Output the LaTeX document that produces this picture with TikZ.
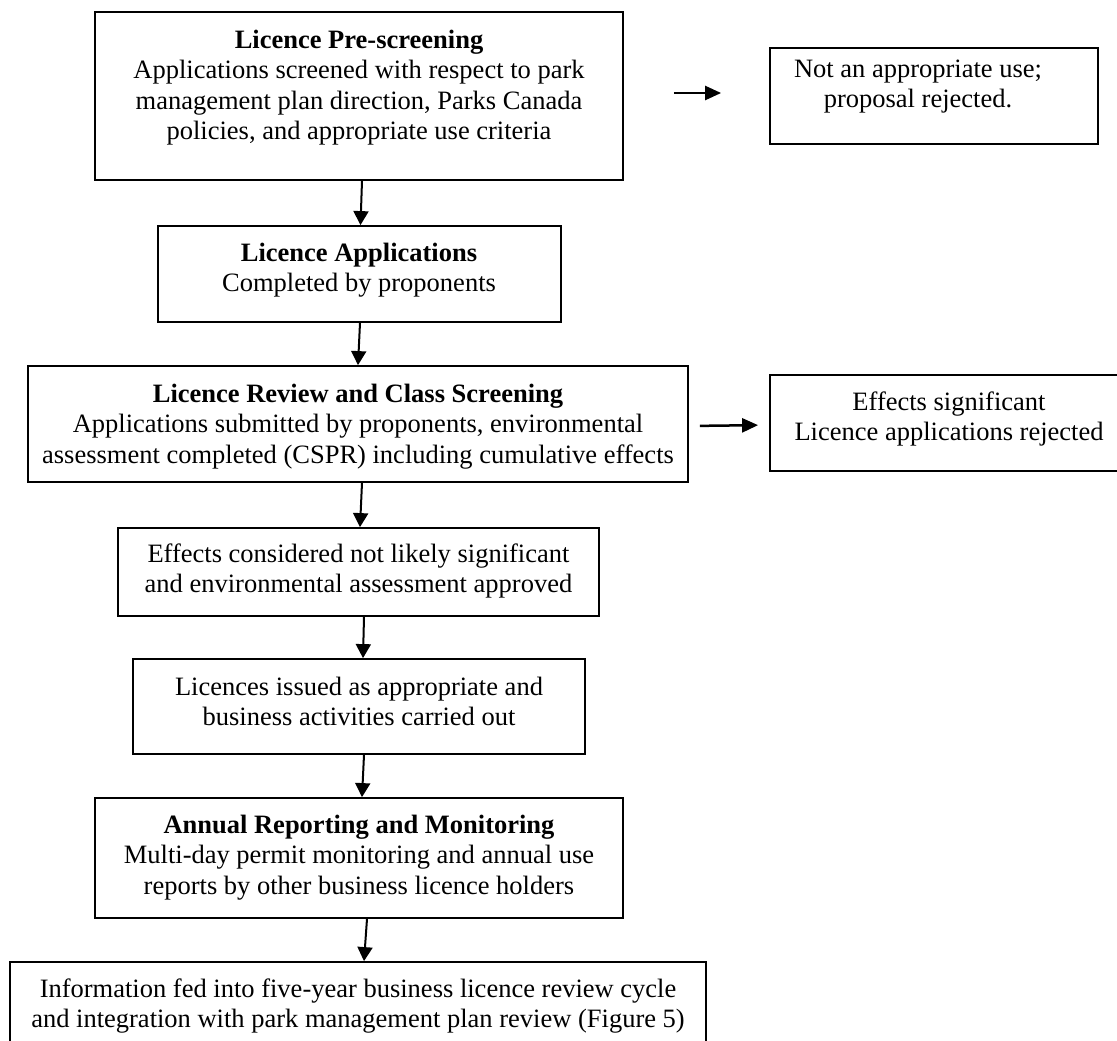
\documentclass[tikz,border=0pt]{standalone}
\usepackage{fontspec}
\setmainfont{Liberation Serif}
\usetikzlibrary{arrows.meta}
\begin{document}
\begin{tikzpicture}[x=1pt,y=-1pt,
  box/.style={draw, line width=1.8pt, rectangle, inner sep=0pt},
  txt/.style={align=center, inner sep=0pt, anchor=north, font=\fontsize{26.5}{30.5}\selectfont},
  arr/.style={line width=2pt, -{Triangle[width=15pt,length=14pt]}},
  harr/.style={line width=2.5pt, -{Triangle[width=14pt,length=16pt]}},
]
\useasboundingbox (0,0) rectangle (1117,1041);
\fill[white] (0,0) rectangle (1117,1041);
\clip (0,0) rectangle (1117,1041);

% boxes
\node[box, minimum width=528pt, minimum height=168pt] (b1) at (359,96) {};
\node[box, minimum width=328pt, minimum height=96pt] (n1) at (934,96) {};
\node[box, minimum width=403pt, minimum height=96pt] (b2) at (359.5,274) {};
\node[box, minimum width=660pt, minimum height=116pt] (b3) at (358,424) {};
\node[box, minimum width=358pt, minimum height=96pt] (n2) at (949,423) {};
\node[box, minimum width=481pt, minimum height=88pt] (b4) at (358.5,572) {};
\node[box, minimum width=452pt, minimum height=95pt] (b5) at (359,706.5) {};
\node[box, minimum width=528pt, minimum height=120pt] (b6) at (359,858) {};
\node[box, minimum width=696pt, minimum height=96pt] (b7) at (358,1010) {};

% texts
\node[txt] (t1) at (359,26.65) {\strut\textbf{Licence Pre-screening}\\Applications screened with respect to park\\management plan direction, Parks Canada\\policies, and appropriate use criteria};
\node[txt] (tn1) at (918,55.65) {\strut Not an appropriate use;\\proposal rejected.};
\node[txt] (t2) at (359,239.65) {\strut\textbf{Licence Applications}\\Completed by proponents};
\node[txt] (t3) at (358,380.65) {\strut\textbf{Licence Review and Class Screening}\\Applications submitted by proponents, environmental\\assessment completed (CSPR) including cumulative effects};
\node[txt] (tn2) at (949,388.65) {\strut Effects significant\\Licence applications rejected};
\node[txt] (t4) at (358.5,540.65) {\strut Effects considered not likely significant\\and environmental assessment approved};
\node[txt] (t5) at (359,673.65) {\strut Licences issued as appropriate and\\business activities carried out};
\node[txt] (t6) at (359,811.65) {\strut\textbf{Annual Reporting and Monitoring}\\Multi-day permit monitoring and annual use\\reports by other business licence holders};
\node[txt] (t7) at (358,975.65) {\strut Information fed into five-year business licence review cycle\\and integration with park management plan review (Figure 5)};

% connectors
\draw[arr] ([xshift=3pt]b1.south) -- ([xshift=1pt]b2.north);
\draw[arr] ([xshift=0.5pt]b2.south) -- (b3.north);
\draw[arr] ([xshift=4pt]b3.south) -- ([xshift=1.5pt]b4.north);
\draw[arr] ([xshift=5.5pt]b4.south) -- ([xshift=4pt]b5.north);
\draw[arr] ([xshift=5pt]b5.south) -- ([xshift=3pt]b6.north);
\draw[arr] ([xshift=8pt]b6.south) -- ([xshift=6pt]b7.north);
\draw[harr, shorten <=50pt, shorten >=48pt] ([yshift=3pt]b1.east) -- ([yshift=3pt]n1.west);
\draw[harr, shorten <=11pt, shorten >=11pt] ([yshift=-2pt]b3.east) -- ([yshift=-2pt]n2.west);
\end{tikzpicture}
\end{document}
